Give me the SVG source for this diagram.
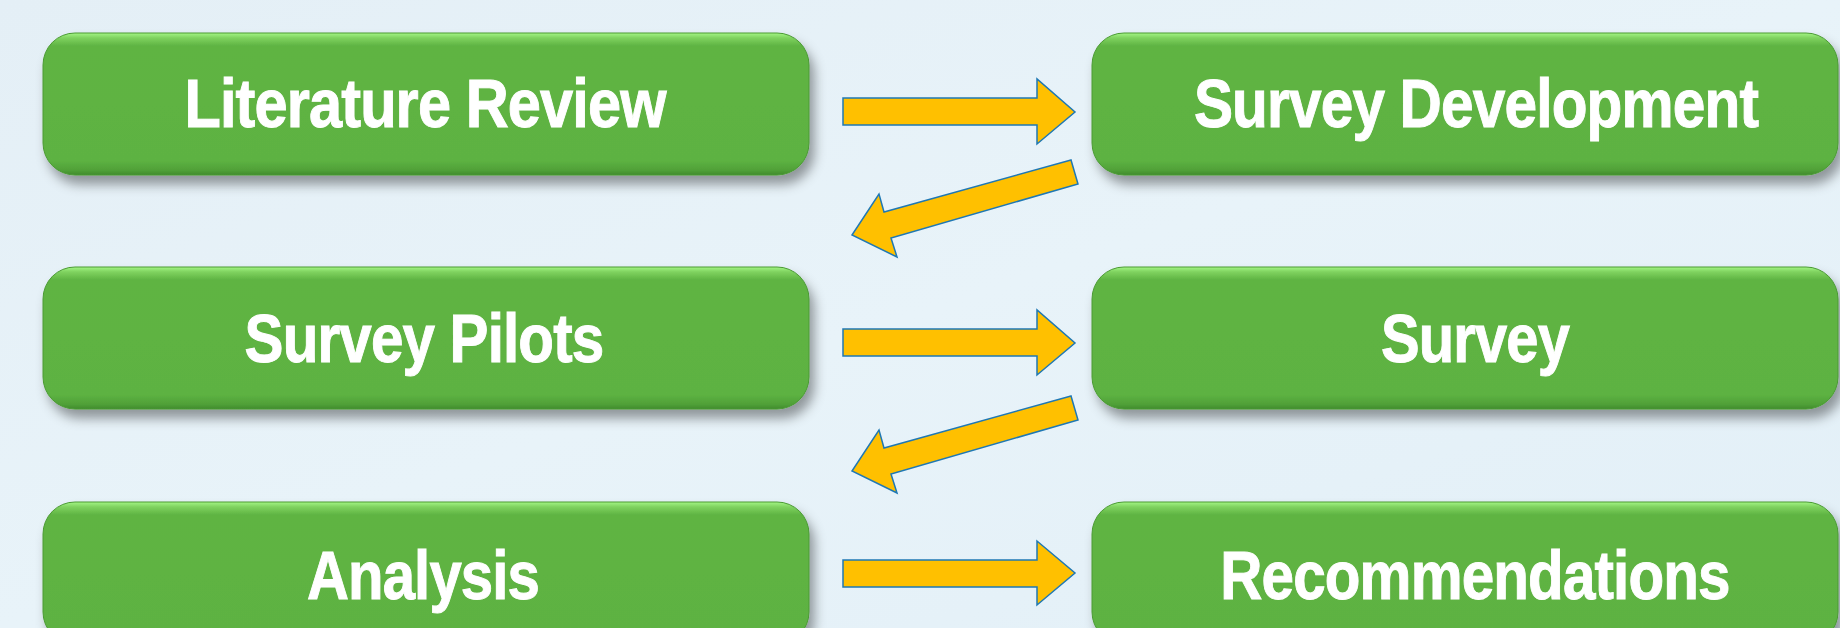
<svg xmlns="http://www.w3.org/2000/svg" width="1840" height="628" viewBox="0 0 1840 628">
  <defs>
    <linearGradient id="bg" x1="0" y1="0" x2="1" y2="1">
      <stop offset="0" stop-color="#e4eff6"/>
      <stop offset="0.5" stop-color="#e8f3f9"/>
      <stop offset="1" stop-color="#e2eff7"/>
    </linearGradient>
    <linearGradient id="boxfill" x1="0" y1="0" x2="0" y2="1">
      <stop offset="0" stop-color="#a3f585"/>
      <stop offset="0.035" stop-color="#7fd25f"/>
      <stop offset="0.09" stop-color="#5fb443"/>
      <stop offset="0.9" stop-color="#5db242"/>
      <stop offset="0.97" stop-color="#4f9f37"/>
      <stop offset="1" stop-color="#3f8a2c"/>
    </linearGradient>
    <filter id="shadow" x="-5%" y="-20%" width="115%" height="150%">
      <feDropShadow dx="5" dy="9" stdDeviation="6" flood-color="#000" flood-opacity="0.38"/>
    </filter>
    <style>
      .box { fill: url(#boxfill); stroke: #4a9a33; stroke-width: 1; filter: url(#shadow); }
      .lbl { font-family: "Liberation Sans", Arial, sans-serif; font-weight: bold; font-size: 69px; fill: #ffffff; stroke: #ffffff; stroke-width: 1; letter-spacing: -1px; text-anchor: middle; }
      .arrow { fill: #ffc000; stroke: #1f78b4; stroke-width: 1.5; stroke-linejoin: miter; }
    </style>
  </defs>

  <rect x="0" y="0" width="1840" height="628" fill="url(#bg)"/>

  <g id="node-literature-review">
    <rect class="box" x="43" y="33" width="766" height="142" rx="32" ry="32"/>
    <text class="lbl" transform="translate(425,127) scale(0.862,1)">Literature Review</text>
  </g>
  <g id="node-survey-development">
    <rect class="box" x="1092" y="33" width="746" height="142" rx="32" ry="32"/>
    <text class="lbl" transform="translate(1476,127) scale(0.849,1)">Survey Development</text>
  </g>
  <g id="node-survey-pilots">
    <rect class="box" x="43" y="267" width="766" height="142" rx="32" ry="32"/>
    <text class="lbl" transform="translate(424,362) scale(0.846,1)">Survey Pilots</text>
  </g>
  <g id="node-survey">
    <rect class="box" x="1092" y="267" width="746" height="142" rx="32" ry="32"/>
    <text class="lbl" transform="translate(1475,362) scale(0.839,1)">Survey</text>
  </g>
  <g id="node-analysis">
    <rect class="box" x="43" y="502" width="766" height="142" rx="32" ry="32"/>
    <text class="lbl" transform="translate(423,599) scale(0.842,1)">Analysis</text>
  </g>
  <g id="node-recommendations">
    <rect class="box" x="1092" y="502" width="746" height="142" rx="32" ry="32"/>
    <text class="lbl" transform="translate(1475,599) scale(0.846,1)">Recommendations</text>
  </g>

  <g id="connectors">
    <polygon class="arrow" points="843,98 1037,98 1037,79 1075,112 1037,144 1037,125 843,125"/>
    <polygon class="arrow" points="1071,160 884,212 879,194 852,235 897,257 891,238 1078,184"/>
    <polygon class="arrow" points="843,329 1037,329 1037,310 1075,343 1037,375 1037,356 843,356"/>
    <polygon class="arrow" points="1071,396 884,448 879,430 852,471 897,493 891,474 1078,420"/>
    <polygon class="arrow" points="843,560 1037,560 1037,541 1075,573 1037,605 1037,587 843,587"/>
  </g>
</svg>
